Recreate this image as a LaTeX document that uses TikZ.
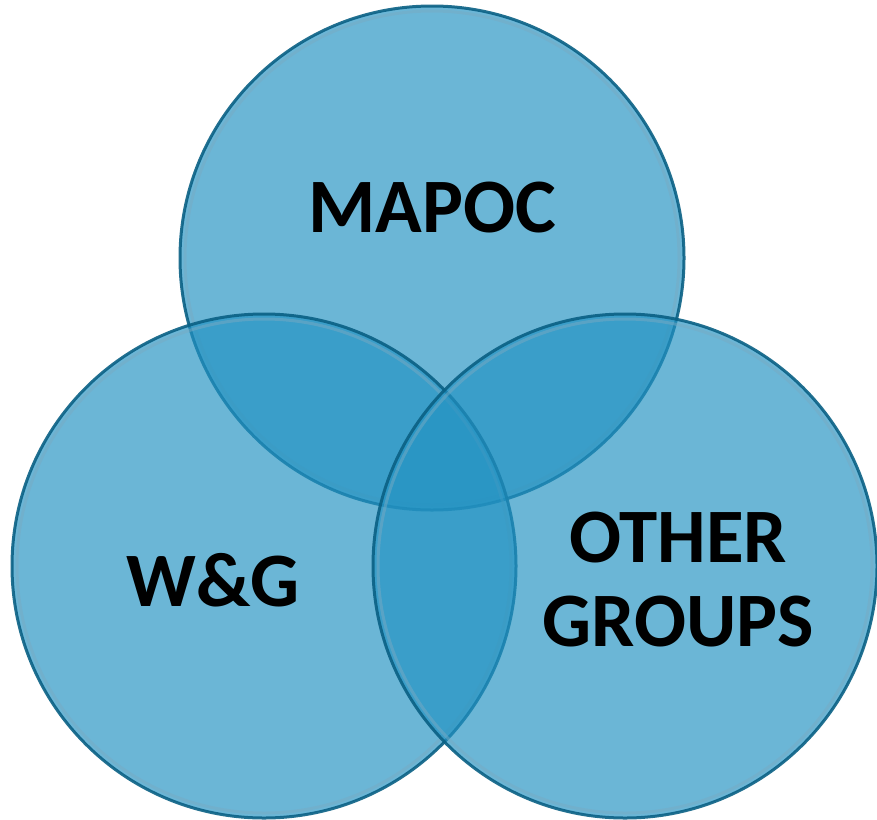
\documentclass[tikz,border=0pt]{standalone}
\usepackage{fontspec}
\setmainfont{Carlito}
\definecolor{vfill}{RGB}{34,146,194}
\definecolor{vedge}{RGB}{10,96,132}
\definecolor{vring}{RGB}{120,170,195}
\tikzset{
  venn/.style={circle, minimum size=504pt, inner sep=0pt, fill=vfill, fill opacity=0.67, draw=vedge, draw opacity=0.9, line width=3pt},
  vring/.style={circle, minimum size=494pt, inner sep=0pt, draw=vring, draw opacity=0.5, line width=3pt},
  vlabel/.style={font=\fontsize{77}{84}\selectfont\bfseries, text=black, align=center, inner sep=0pt}
}
\begin{document}
\begin{tikzpicture}[x=1pt,y=-1pt]
\useasboundingbox (0,0) rectangle (877,819);
\node[venn] (top) at (432,258) {};
\node[vring] (topr) at (432,258) {};
\node[venn] (left) at (264,566) {};
\node[vring] (leftr) at (264,566) {};
\node[venn] (right) at (625,566) {};
\node[vring] (rightr) at (625,566) {};
\node[vlabel] (tl) at (432,208) {MAPOC};
\node[vlabel] (ll) at (213,580) {W\&G};
\node[vlabel] (rl) at (678,580) {OTHER\\GROUPS};
\end{tikzpicture}
\end{document}
